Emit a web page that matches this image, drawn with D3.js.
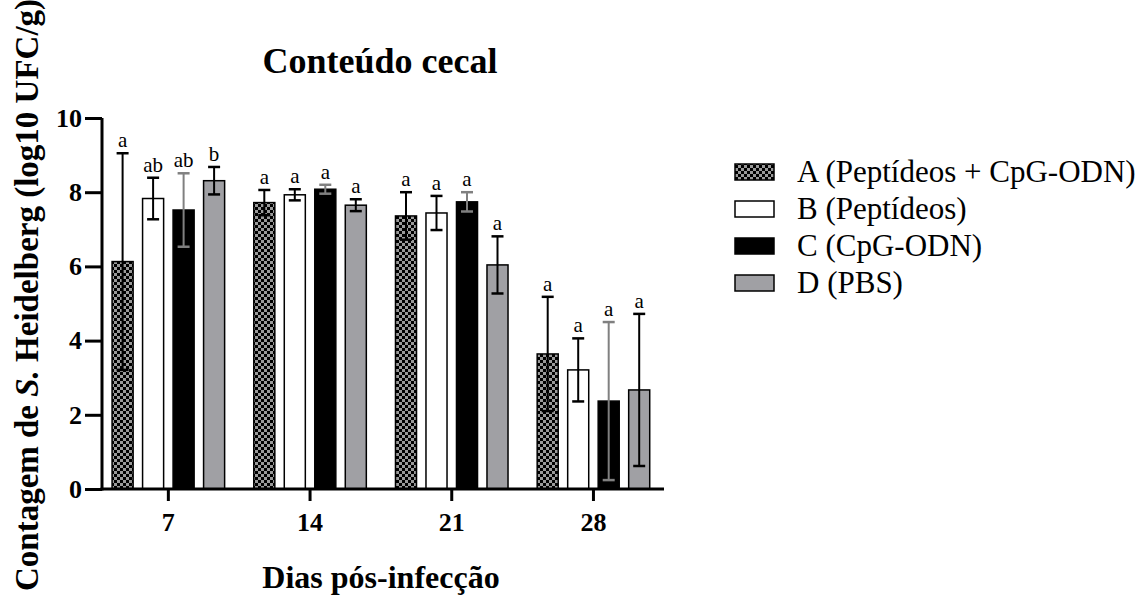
<!DOCTYPE html>
<html>
<head>
<meta charset="utf-8">
<script src="https://cdn.jsdelivr.net/npm/d3@7"></script>
<style>
  body { margin: 0; background: #fff; }
  svg { display: block; }
  text { font-family: "Liberation Serif", "Times New Roman", serif; }
</style>
</head>
<body>
<svg id="chart" width="1144" height="597"></svg>
<script>
// ---- data ----
const days = ["7", "14", "21", "28"];
const groups = ["A", "B", "C", "D"];
const groupLabels = ["A (Peptídeos + CpG-ODN)", "B (Peptídeos)", "C (CpG-ODN)", "D (PBS)"];
const meanA = [6.13, 7.72, 7.36, 3.64];
const meanB = [7.83, 7.93, 7.44, 3.21];
const meanC = [7.52, 8.08, 7.74, 2.37];
const meanD = [8.31, 7.65, 6.04, 2.67];
const sdA = [2.92, 0.34, 0.64, 1.54];
const sdB = [0.56, 0.15, 0.46, 0.85];
const sdC = [0.99, 0.12, 0.26, 2.13];
const sdD = [0.37, 0.16, 0.77, 2.05];
const letA = ["a", "a", "a", "a"];
const letB = ["ab", "a", "a", "a"];
const letC = ["ab", "a", "a", "a"];
const letD = ["b", "a", "a", "a"];
const yTicks = [0, 2, 4, 6, 8, 10];

const means = [meanA, meanB, meanC, meanD];
const sds = [sdA, sdB, sdC, sdD];
const lets = [letA, letB, letC, letD];

const rows = [];
days.forEach((d, i) => groups.forEach((g, j) => rows.push({
  day: d, group: g, mean: means[j][i], sd: sds[j][i], letter: lets[j][i]
})));

// ---- layout ----
const svg = d3.select("#chart");
const axisX0 = 102, axisY0 = 489;
const x = d3.scaleBand().domain(days).range([97.5, 664.3]).padding(0);
const xi = d3.scaleBand().domain(groups).range([-61, 61]).paddingInner(0.31).paddingOuter(0.155);
const y = d3.scaleLinear().domain([0, 10]).range([489, 118]);

const fills = { A: "url(#checker)", B: "#ffffff", C: "#000000", D: "#a0a0a4" };
const errColor = { A: "#000", B: "#000", C: "#808080", D: "#000" };

// pattern
const defs = svg.append("defs");
const pat = defs.append("pattern").attr("id", "checker").attr("patternUnits", "userSpaceOnUse")
  .attr("width", 6).attr("height", 6);
pat.append("rect").attr("width", 6).attr("height", 6).attr("fill", "#9a9a9a");
pat.append("rect").attr("width", 3).attr("height", 3).attr("fill", "#000");
pat.append("rect").attr("x", 3).attr("y", 3).attr("width", 3).attr("height", 3).attr("fill", "#000");

// bars
const cx = d => x(d.day) + x.bandwidth() / 2 + xi(d.group) + xi.bandwidth() / 2;
svg.append("g").selectAll("rect").data(rows).join("rect")
  .attr("x", d => x(d.day) + x.bandwidth() / 2 + xi(d.group))
  .attr("y", d => y(d.mean))
  .attr("width", xi.bandwidth())
  .attr("height", d => y(0) - y(d.mean))
  .attr("fill", d => fills[d.group])
  .attr("stroke", "#000")
  .attr("stroke-width", 1.5);

// error bars
const eb = svg.append("g");
rows.forEach(d => {
  const c = cx(d);
  const top = y(d.mean + d.sd), bot = y(Math.max(0, d.mean - d.sd));
  eb.append("line").attr("x1", c).attr("x2", c).attr("y1", top).attr("y2", bot)
    .attr("stroke", errColor[d.group]).attr("stroke-width", 2);
  [top, bot].forEach(yy => eb.append("line").attr("x1", c - 6).attr("x2", c + 6)
    .attr("y1", yy).attr("y2", yy).attr("stroke", errColor[d.group]).attr("stroke-width", 2.5));
  eb.append("text").attr("x", c).attr("y", top - 6).attr("text-anchor", "middle")
    .attr("font-size", 21).text(d.letter);
});

// y axis
const yAxis = svg.append("g").attr("transform", `translate(${axisX0},0)`)
  .call(d3.axisLeft(y).tickValues(yTicks).tickSize(17).tickSizeOuter(0).tickPadding(3));
yAxis.select(".domain").attr("stroke-width", 3).attr("d", `M0,${y(10)}V${axisY0 + 1.5}`);
yAxis.selectAll(".tick line").attr("stroke-width", 3);
yAxis.selectAll(".tick text").attr("font-family", "Liberation Serif").attr("font-weight", "bold")
  .attr("font-size", 26).attr("fill", "#000");

// x axis
const xAxis = svg.append("g").attr("transform", `translate(0,${axisY0})`)
  .call(d3.axisBottom(x).tickSize(12).tickSizeOuter(0).tickPadding(12));
xAxis.select(".domain").attr("stroke-width", 3).attr("d", `M${axisX0 - 1.5},0H664`);
xAxis.selectAll(".tick line").attr("stroke-width", 3);
xAxis.selectAll(".tick text").attr("font-family", "Liberation Serif").attr("font-weight", "bold")
  .attr("font-size", 26).attr("fill", "#000");

// titles
svg.append("text").attr("x", 380).attr("y", 73).attr("text-anchor", "middle")
  .attr("font-weight", "bold").attr("font-size", 36).text("Conteúdo cecal");
svg.append("text").attr("x", 381).attr("y", 588).attr("text-anchor", "middle")
  .attr("font-weight", "bold").attr("font-size", 32).text("Dias pós-infecção");
const yt = svg.append("text").attr("transform", "translate(38,295) rotate(-90)")
  .attr("text-anchor", "middle").attr("font-weight", "bold").attr("font-size", 33);
yt.append("tspan").text("Contagem de ");
yt.append("tspan").attr("font-style", "italic").text("S.");
yt.append("tspan").text(" Heidelberg (log10 UFC/g)");

// legend
const lg = svg.append("g");
groups.forEach((g, j) => {
  const yy = 172 + j * 37;
  lg.append("rect").attr("x", 735).attr("y", yy - 8).attr("width", 39).attr("height", 16)
    .attr("fill", fills[g]).attr("stroke", "#000").attr("stroke-width", 1.5);
  lg.append("text").attr("x", 797).attr("y", yy + 10).attr("font-size", 31).text(groupLabels[j]);
});
</script>
</body>
</html>
